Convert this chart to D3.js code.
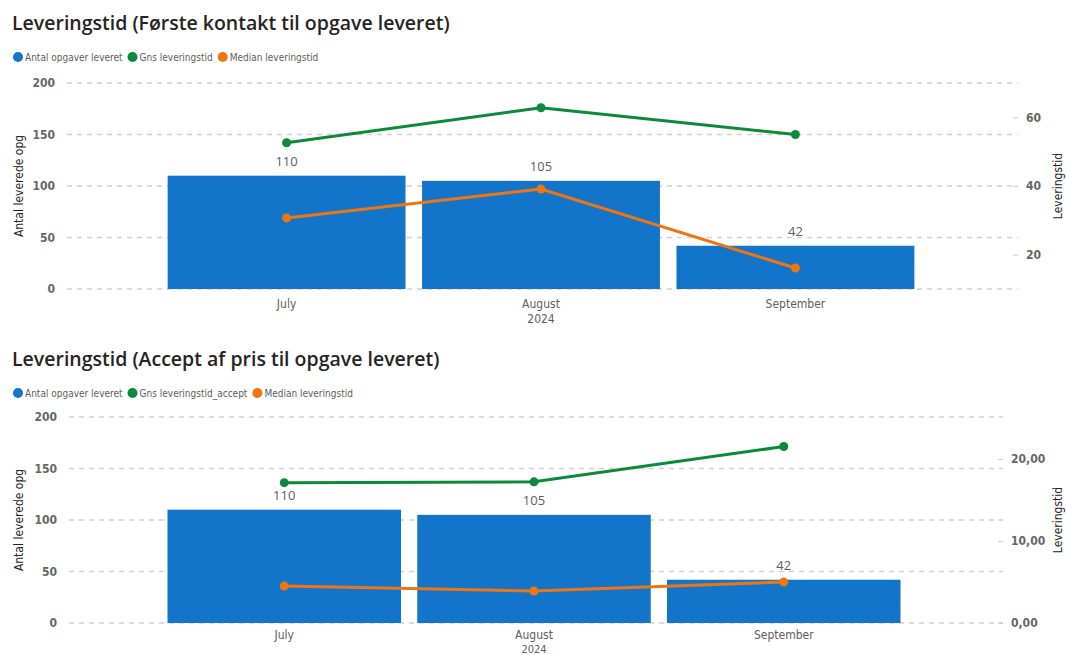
<!DOCTYPE html>
<html>
<head>
  <meta charset="utf-8">
  <title>Leveringstid</title>
  <script src="https://cdn.jsdelivr.net/npm/d3@7"></script>
  <style>
    body { margin: 0; background: #fff; font-family: "Liberation Sans Narrow", "DejaVu Sans Condensed", Arial, sans-serif; }
  </style>
</head>
<body>
<div id="chart"></div>
<script>
// ----- Data -----
const months = ["July", "August", "September"];
const yearLabel = "2024";
const antal = [110, 105, 42];
const gnsForste = [52.6, 62.8, 55.0];
const medianForste = [30.7, 39.1, 16.1];
const gnsAccept = [17.1, 17.2, 21.5];
const medianAccept = [4.5, 3.9, 5.0];
const countTicks = [0, 50, 100, 150, 200];
const forsteTicks = [20, 40, 60];
const acceptTicks = [0, 10, 20];

const W = 1066, H = 655;
const BLUE = "#1375c9", GREEN = "#0b8a3b", ORANGE = "#ef7512";
const narrow = '"Liberation Sans Narrow", "DejaVu Sans Condensed", Arial, sans-serif';

const svg = d3.select("#chart").append("svg")
  .attr("width", W).attr("height", H);

function drawChart(cfg) {
  const g = svg.append("g");

  // title
  g.append("text")
    .attr("x", 12).attr("y", cfg.top + 30)
    .attr("font-family", '"Open Sans", "Noto Sans", sans-serif')
    .attr("font-weight", 600)
    .attr("font-size", 19.5)
    .attr("fill", "#252423")
    .text(cfg.title);

  // legend
  let lx = 18;
  cfg.legend.forEach(([label, col]) => {
    g.append("circle").attr("cx", lx).attr("cy", cfg.top + 57).attr("r", 5).attr("fill", col);
    const t = g.append("text")
      .attr("x", lx + 7).attr("y", cfg.top + 61)
      .attr("font-family", narrow).attr("font-size", 10).attr("fill", "#605e5c")
      .text(label);
    lx += 7 + t.node().getComputedTextLength() + 10;
  });

  const y = d3.scaleLinear().domain([0, 200]).range([cfg.bottom, cfg.bottom - 206]);
  const y2 = d3.scaleLinear().domain(cfg.y2domain).range([cfg.bottom, cfg.bottom - 206]);
  const x = d3.scaleBand().domain(months).range(cfg.xrange)
    .paddingInner(0.065).paddingOuter(0.03);

  // gridlines
  g.selectAll(".grid").data(countTicks).join("line")
    .attr("x1", cfg.gridLeft).attr("x2", cfg.gridRight)
    .attr("y1", d => y(d)).attr("y2", d => y(d))
    .attr("stroke", "#d0d0d0").attr("stroke-width", 1.5)
    .attr("stroke-dasharray", "5,5");

  // left axis
  const la = g.append("g").attr("transform", `translate(${cfg.gridLeft - 8},0)`)
    .call(d3.axisLeft(y).tickValues(countTicks).tickSize(0).tickPadding(4));
  la.select(".domain").remove();
  la.selectAll("text").attr("font-family", narrow).attr("font-size", 12)
    .attr("font-weight", "bold").attr("fill", "#666");

  g.append("text")
    .attr("transform", `translate(23,${cfg.bottom - 103}) rotate(-90)`)
    .attr("text-anchor", "middle")
    .attr("font-family", narrow).attr("font-size", 12).attr("fill", "#252423")
    .text("Antal leverede opg");

  // right axis
  const ra = g.append("g").attr("transform", `translate(${cfg.gridRight - 5},0)`)
    .call(d3.axisRight(y2).tickValues(cfg.y2ticks).tickSize(5).tickPadding(8)
      .tickFormat(cfg.y2format));
  ra.select(".domain").remove();
  ra.selectAll("line").attr("stroke", "#ccc");
  ra.selectAll("text").attr("font-family", narrow).attr("font-size", 12)
    .attr("font-weight", "bold").attr("fill", "#666");

  g.append("text")
    .attr("transform", `translate(1062,${cfg.bottom - 103}) rotate(-90)`)
    .attr("text-anchor", "middle")
    .attr("font-family", narrow).attr("font-size", 12).attr("fill", "#252423")
    .text("Leveringstid");

  // bars
  g.selectAll(".bar").data(antal).join("rect")
    .attr("x", (d, i) => x(months[i]))
    .attr("y", d => y(d))
    .attr("width", x.bandwidth())
    .attr("height", d => y(0) - y(d))
    .attr("fill", BLUE);

  // bar labels
  g.selectAll(".blab").data(antal).join("text")
    .attr("x", (d, i) => x(months[i]) + x.bandwidth() / 2)
    .attr("y", d => y(d) - 10)
    .attr("text-anchor", "middle")
    .attr("font-family", '"Open Sans", "Noto Sans", sans-serif')
    .attr("font-size", 13).attr("fill", "#605e5c")
    .text(d => d);

  // x axis labels
  const xa = g.append("g").attr("transform", `translate(0,${cfg.bottom + 2})`)
    .call(d3.axisBottom(x).tickSize(0).tickPadding(cfg.labelPad));
  xa.select(".domain").remove();
  xa.selectAll("text").attr("font-family", narrow).attr("font-size", 12).attr("fill", "#605e5c");
  g.append("text")
    .attr("x", x("August") + x.bandwidth() / 2).attr("y", cfg.yearY)
    .attr("text-anchor", "middle")
    .attr("font-family", narrow).attr("font-size", cfg.yearSize).attr("fill", "#605e5c")
    .text(yearLabel);

  // lines
  const cx = i => x(months[i]) + x.bandwidth() / 2;
  cfg.lines.forEach(([vals, col]) => {
    const line = d3.line().x((d, i) => cx(i)).y(d => y2(d));
    g.append("path").datum(vals).attr("d", line)
      .attr("fill", "none").attr("stroke", col).attr("stroke-width", 3);
    g.selectAll(null).data(vals).join("circle")
      .attr("cx", (d, i) => cx(i)).attr("cy", d => y2(d))
      .attr("r", 4.5).attr("fill", col);
  });
}

drawChart({
  top: 0, bottom: 289, yearY: 323, labelPad: 8, yearSize: 12,
  title: "Leveringstid (Første kontakt til opgave leveret)",
  legend: [["Antal opgaver leveret", BLUE], ["Gns leveringstid", GREEN], ["Median leveringstid", ORANGE]],
  xrange: [160, 922],
  gridLeft: 67, gridRight: 1018,
  y2domain: [10, 70], y2ticks: forsteTicks, y2format: d3.format("d"),
  lines: [[gnsForste, GREEN], [medianForste, ORANGE]]
});

drawChart({
  top: 336, bottom: 623, yearY: 653, labelPad: 5, yearSize: 11,
  title: "Leveringstid (Accept af pris til opgave leveret)",
  legend: [["Antal opgaver leveret", BLUE], ["Gns leveringstid_accept", GREEN], ["Median leveringstid", ORANGE]],
  xrange: [160, 908],
  gridLeft: 69, gridRight: 1003,
  y2domain: [0, 25.1], y2ticks: acceptTicks, y2format: d => d3.format(".2f")(d).replace(".", ","),
  lines: [[gnsAccept, GREEN], [medianAccept, ORANGE]]
});
</script>
</body>
</html>
